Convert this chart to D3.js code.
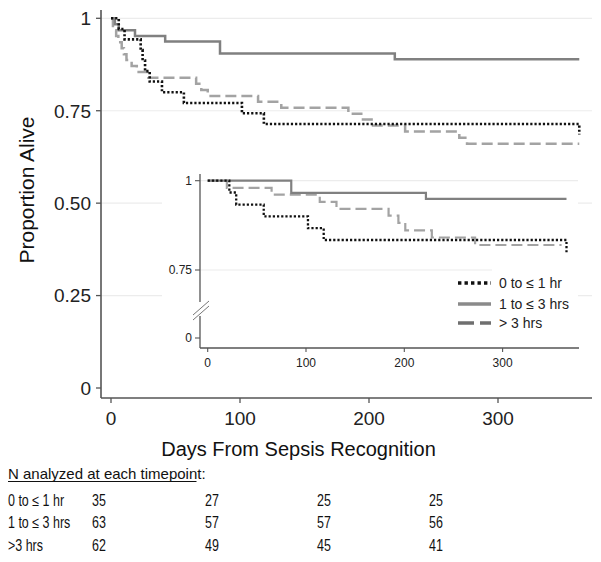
<!DOCTYPE html>
<html>
<head>
<meta charset="utf-8">
<script src="https://cdn.jsdelivr.net/npm/d3@7"></script>
<style>
  html, body { margin: 0; padding: 0; background: #fff; }
  svg { display: block; font-family: "Liberation Sans", Arial, sans-serif; }
</style>
</head>
<body>
<svg id="chart" width="601" height="562"></svg>
<script>
// ---------- DATA ----------
const seriesNames = ["0 to \u2264 1 hr", "1 to \u2264 3 hrs", "> 3 hrs"];

// Main Kaplan-Meier curves (day, proportion alive)
const mainDays_0to1 = [0, 6, 10.5, 23, 24.5, 26.4, 30, 39.5, 56.5, 101.5, 118.5, 363];
const mainSurv_0to1 = [1, 0.971, 0.943, 0.914, 0.886, 0.857, 0.829, 0.800, 0.771, 0.743, 0.714, 0.686];
const mainDays_1to3 = [0, 3, 6, 18.6, 42, 84.5, 220, 363];
const mainSurv_1to3 = [1, 0.984, 0.968, 0.952, 0.937, 0.905, 0.889, 0.889];
const mainDays_gt3 = [0, 1.5, 4, 5.7, 8.3, 10, 12, 16, 20, 29, 66, 70, 75, 114, 132, 184, 194, 202, 228, 270, 276, 363];
const mainSurv_gt3 = [1, 0.968, 0.952, 0.935, 0.919, 0.903, 0.887, 0.871, 0.855, 0.839, 0.823, 0.806, 0.790, 0.774, 0.758, 0.742, 0.726, 0.710, 0.694, 0.677, 0.661, 0.661];

// Inset curves
const insetDays_0to1 = [0, 22, 29, 57, 102, 118, 365];
const insetSurv_0to1 = [1, 0.967, 0.933, 0.900, 0.867, 0.834, 0.800];
const insetDays_1to3 = [0, 85, 222, 365];
const insetSurv_1to3 = [1, 0.966, 0.949, 0.949];
const insetDays_gt3 = [0, 19.5, 65, 114, 131, 184, 194, 201, 228, 272, 360];
const insetSurv_gt3 = [1, 0.980, 0.961, 0.941, 0.921, 0.902, 0.882, 0.861, 0.841, 0.820, 0.820];

// Axis ticks
const mainYTicks = [0, 0.25, 0.5, 0.75, 1];
const mainYTickLabels = ["0", "0.25", "0.50", "0.75", "1"];
const mainXTicks = [0, 100, 200, 300];
const insetYTicks = [0, 0.75, 1];
const insetYTickLabels = ["0", "0.75", "1"];
const insetXTicks = [0, 100, 200, 300];

// Number-at-risk table
const tableTitle = "N analyzed at each timepoint";
const tableRowLabels = ["0 to \u2264 1 hr", "1 to \u2264 3 hrs", ">3 hrs"];
const tableN_0to1 = [35, 27, 25, 25];
const tableN_1to3 = [63, 57, 57, 56];
const tableN_gt3 = [62, 49, 45, 41];

// ---------- STYLES ----------
const styles = [
  { color: "#111", width: 2.6, dash: "2.2 2", lgColor: "#111", lgWidth: 3.4, lgDash: "3.4 3.1" },
  { color: "#808080", width: 2.5, dash: null, lgColor: "#8a8a8a", lgWidth: 3.4, lgDash: null },
  { color: "#a3a3a3", width: 2.5, dash: "11 5", lgColor: "#6f6f6f", lgWidth: 3.4, lgDash: "16 6" }
];
const axisColor = "#555";
const gridColor = "#ececec";

const svg = d3.select("#chart");
const zip = (ds, ss) => ds.map((d, i) => ({ d: d, s: ss[i] }));

// ---------- MAIN PLOT ----------
const x = d3.scaleLinear().domain([0, 100]).range([111, 240]);
const y = d3.scaleLinear().domain([0, 1]).range([388, 18.3]);
const plotLeft = 101, plotRight = 592, plotTop = 10, plotBottom = 398;

svg.append("g").selectAll("line").data([0.25, 0.5, 0.75, 1]).join("line")
  .attr("x1", plotLeft).attr("x2", plotRight)
  .attr("y1", d => y(d)).attr("y2", d => y(d))
  .attr("stroke", gridColor).attr("stroke-width", 1.2);

svg.append("line").attr("x1", plotLeft).attr("x2", plotLeft).attr("y1", plotTop).attr("y2", plotBottom)
  .attr("stroke", axisColor).attr("stroke-width", 1.6);
svg.append("line").attr("x1", plotLeft).attr("x2", plotRight).attr("y1", plotBottom).attr("y2", plotBottom)
  .attr("stroke", axisColor).attr("stroke-width", 1.6);

const yt = svg.append("g");
yt.selectAll("line").data(mainYTicks).join("line")
  .attr("x1", plotLeft - 5).attr("x2", plotLeft)
  .attr("y1", d => y(d)).attr("y2", d => y(d))
  .attr("stroke", axisColor).attr("stroke-width", 1.3);
yt.selectAll("text").data(mainYTicks).join("text")
  .attr("x", plotLeft - 10).attr("y", d => y(d)).attr("dy", "0.36em")
  .attr("text-anchor", "end").attr("font-size", 19).attr("fill", "#222")
  .text((d, i) => mainYTickLabels[i]);

const xt = svg.append("g");
xt.selectAll("line").data(mainXTicks).join("line")
  .attr("x1", d => x(d)).attr("x2", d => x(d))
  .attr("y1", plotBottom).attr("y2", plotBottom + 5)
  .attr("stroke", axisColor).attr("stroke-width", 1.3);
xt.selectAll("text").data(mainXTicks).join("text")
  .attr("x", d => x(d)).attr("y", 425)
  .attr("text-anchor", "middle").attr("font-size", 19).attr("fill", "#222")
  .text(d => d);

svg.append("text").attr("transform", "translate(33.5,190) rotate(-90)")
  .attr("text-anchor", "middle").attr("font-size", 21).attr("fill", "#111")
  .text("Proportion Alive");
svg.append("text").attr("x", 298.5).attr("y", 456)
  .attr("text-anchor", "middle").attr("font-size", 20).attr("fill", "#111")
  .text("Days From Sepsis Recognition");

const mainData = [zip(mainDays_0to1, mainSurv_0to1), zip(mainDays_1to3, mainSurv_1to3), zip(mainDays_gt3, mainSurv_gt3)];
const mainLine = d3.line().x(p => x(p.d)).y(p => y(p.s)).curve(d3.curveStepAfter);
const drawOrder = [2, 1, 0];
drawOrder.forEach(i => {
  svg.append("path").datum(mainData[i]).attr("d", mainLine)
    .attr("fill", "none").attr("stroke", styles[i].color)
    .attr("stroke-width", styles[i].width)
    .attr("stroke-dasharray", styles[i].dash);
});

// ---------- INSET ----------
const ix = d3.scaleLinear().domain([0, 100]).range([207.7, 306.0]);
const iy = d3.scaleLinear().domain([0, 0.65, 0.75, 1]).range([338, 305.7, 270, 180.7]);
const iLeft = 200, iRight = 579, iBottom = 348, iTop = 174;

svg.append("rect").attr("x", 162).attr("y", 166).attr("width", 416).attr("height", 214).attr("fill", "#fff");

svg.append("line").attr("x1", iLeft).attr("x2", 578).attr("y1", iy(1)).attr("y2", iy(1))
  .attr("stroke", gridColor).attr("stroke-width", 1.2);
svg.append("line").attr("x1", iLeft).attr("x2", 492).attr("y1", iy(0.75)).attr("y2", iy(0.75))
  .attr("stroke", gridColor).attr("stroke-width", 1.2);

svg.append("line").attr("x1", iLeft).attr("x2", iLeft).attr("y1", iTop).attr("y2", 302)
  .attr("stroke", axisColor).attr("stroke-width", 1.3);
svg.append("line").attr("x1", iLeft).attr("x2", iLeft).attr("y1", 316).attr("y2", iBottom)
  .attr("stroke", axisColor).attr("stroke-width", 1.3);
svg.append("line").attr("x1", iLeft).attr("x2", iRight).attr("y1", iBottom).attr("y2", iBottom)
  .attr("stroke", axisColor).attr("stroke-width", 1.3);
[0, 5].forEach(o => {
  svg.append("line").attr("x1", 193).attr("y1", 315 + o).attr("x2", 209).attr("y2", 301 + o)
    .attr("stroke", "#777").attr("stroke-width", 1);
});

const iyt = svg.append("g");
iyt.selectAll("line").data(insetYTicks).join("line")
  .attr("x1", iLeft - 5).attr("x2", iLeft)
  .attr("y1", d => iy(d)).attr("y2", d => iy(d))
  .attr("stroke", axisColor).attr("stroke-width", 1.1);
iyt.selectAll("text").data(insetYTicks).join("text")
  .attr("x", iLeft - 8).attr("y", d => iy(d)).attr("dy", "0.36em")
  .attr("text-anchor", "end").attr("font-size", 12).attr("fill", "#222")
  .text((d, i) => insetYTickLabels[i]);

const ixt = svg.append("g");
ixt.selectAll("line").data(insetXTicks).join("line")
  .attr("x1", d => ix(d)).attr("x2", d => ix(d))
  .attr("y1", iBottom).attr("y2", iBottom + 4)
  .attr("stroke", axisColor).attr("stroke-width", 1.1);
ixt.selectAll("text").data(insetXTicks).join("text")
  .attr("x", d => ix(d)).attr("y", 367)
  .attr("text-anchor", "middle").attr("font-size", 12).attr("fill", "#222")
  .text(d => d);

const insetData = [zip(insetDays_0to1, insetSurv_0to1), zip(insetDays_1to3, insetSurv_1to3), zip(insetDays_gt3, insetSurv_gt3)];
const insetLine = d3.line().x(p => ix(p.d)).y(p => iy(p.s)).curve(d3.curveStepAfter);
drawOrder.forEach(i => {
  svg.append("path").datum(insetData[i]).attr("d", insetLine)
    .attr("fill", "none").attr("stroke", styles[i].color)
    .attr("stroke-width", styles[i].width - 0.3)
    .attr("stroke-dasharray", styles[i].dash);
});

const lgRows = [283, 304, 323];
const lg = svg.append("g");
seriesNames.forEach((name, i) => {
  lg.append("line").attr("x1", 458).attr("x2", 491).attr("y1", lgRows[i]).attr("y2", lgRows[i])
    .attr("stroke", styles[i].lgColor).attr("stroke-width", styles[i].lgWidth)
    .attr("stroke-dasharray", styles[i].lgDash);
  lg.append("text").attr("x", 499).attr("y", lgRows[i]).attr("dy", "0.36em")
    .attr("font-size", 14).attr("fill", "#222").text(name);
});

// ---------- TABLE ----------
svg.append("text").attr("x", 8).attr("y", 479).attr("font-size", 15).attr("fill", "#111")
  .text(tableTitle + ":");
svg.append("line").attr("x1", 8).attr("x2", 196.5).attr("y1", 481.5).attr("y2", 481.5)
  .attr("stroke", "#111").attr("stroke-width", 1);

const tableVals = [tableN_0to1, tableN_1to3, tableN_gt3];
const rowY = [506, 528, 551];
const colX = [92, 205, 317, 429];
const narrowScale = 0.78;
tableRowLabels.forEach((lab, r) => {
  svg.append("text").attr("transform", `translate(8,${rowY[r]}) scale(${narrowScale},1)`)
    .attr("font-size", 16).attr("fill", "#111").text(lab);
  svg.append("g").selectAll("text").data(tableVals[r]).join("text")
    .attr("transform", (d, c) => `translate(${colX[c]},${rowY[r]}) scale(${narrowScale},1)`)
    .attr("font-size", 16).attr("fill", "#111").text(d => d);
});
</script>
</body>
</html>
